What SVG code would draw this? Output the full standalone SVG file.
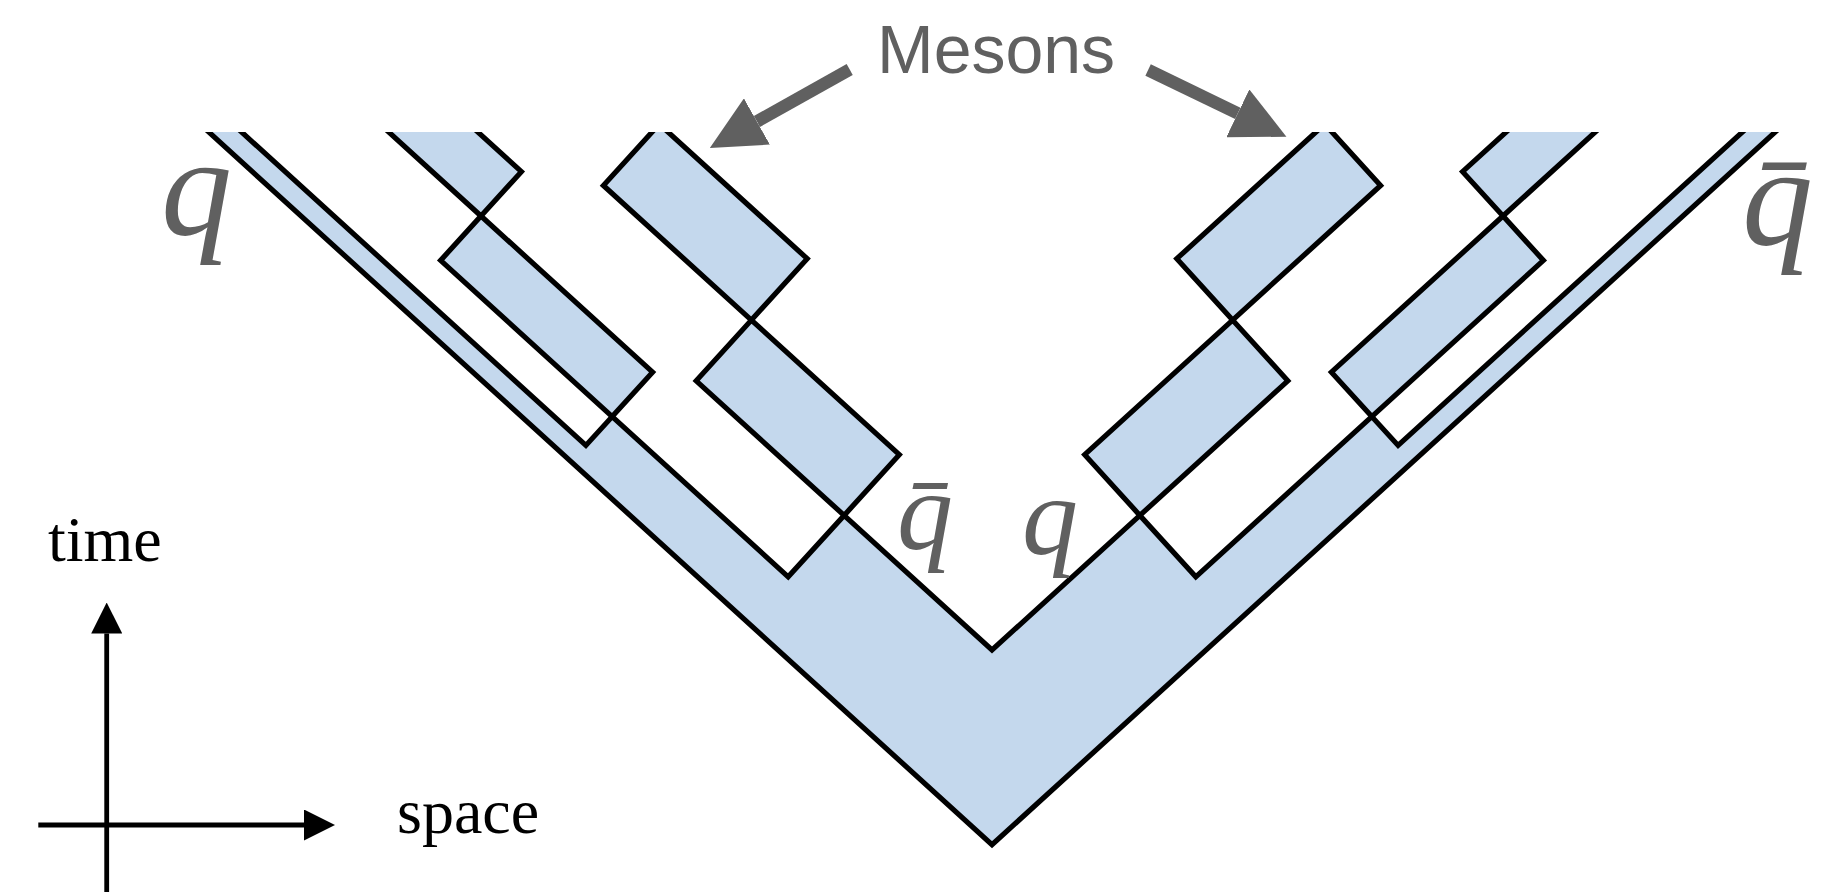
<svg xmlns="http://www.w3.org/2000/svg" width="1830" height="892" viewBox="0 0 1830 892">
<style>
 .band{fill:#c4d8ed;stroke:none}
 .meson{fill:#c4d8ed;stroke:#000;stroke-width:5.2;stroke-linejoin:miter}
 .edge{fill:none;stroke:#000;stroke-width:5.2;stroke-linejoin:miter}
 .lbl{font-family:"Liberation Serif","Times New Roman",serif;font-style:italic;fill:#606060}
 .axis{stroke:#000;stroke-width:4.8;fill:none}
 .axlbl{font-family:"Liberation Serif","Times New Roman",serif;font-size:64px;fill:#000}
 .mes{font-family:"Liberation Sans",Arial,sans-serif;font-size:68px;fill:#606060}
 .ptr{stroke:#606060;stroke-width:12.5;fill:none}
</style>
<defs>
 <clipPath id="topclip"><rect x="0" y="132" width="1830" height="760"/></clipPath>
 <marker id="mhead" markerUnits="userSpaceOnUse" viewBox="0 0 54 53" markerWidth="54" markerHeight="53" refX="0" refY="26.5" orient="auto"><path d="M0,0 L54,26.5 L0,53 Z" fill="#606060"/></marker>
 <marker id="axhead" markerUnits="userSpaceOnUse" viewBox="0 0 31 31" markerWidth="31" markerHeight="31" refX="0" refY="15.5" orient="auto"><path d="M0,0 L31,15.5 L0,31 Z" fill="#000"/></marker>
</defs>
<g id="spacetime" clip-path="url(#topclip)">
 <g id="string-band">
  <path class="band" d="M173.6,100 L992,844.7 L1810.4,100 L1777.6,100 L1398.1,445.4 L1371.8,416.6 L1195.8,576.8 L1139.9,515.4 L992,650 L844.1,515.4 L788.2,576.8 L612.2,416.6 L585.9,445.4 L206.4,100 Z"/>
 </g>
 <g id="meson-left-1"><path class="meson" d="M844.1,515.4 L899.3,454.7 L751.4,320.1 L696.2,380.8 Z"/></g>
 <g id="meson-left-2"><path class="meson" d="M751.4,320.1 L807.2,258.7 L659.3,124.1 L603.4,185.5 Z"/></g>
 <g id="meson-left-3"><path class="meson" d="M612.2,416.6 L652.6,372.2 L481.0,216.0 L440.6,260.4 Z"/></g>
 <g id="meson-left-4"><path class="meson" d="M481.0,216.0 L521.4,171.7 L351.3,16.8 L310.9,61.2 Z"/></g>
 <g id="meson-right-1"><path class="meson" d="M1139.9,515.4 L1084.7,454.7 L1232.6,320.1 L1287.8,380.8 Z"/></g>
 <g id="meson-right-2"><path class="meson" d="M1232.6,320.1 L1176.8,258.7 L1324.7,124.1 L1380.6,185.5 Z"/></g>
 <g id="meson-right-3"><path class="meson" d="M1371.8,416.6 L1331.4,372.2 L1503.0,216.0 L1543.4,260.4 Z"/></g>
 <g id="meson-right-4"><path class="meson" d="M1503.0,216.0 L1462.6,171.7 L1632.7,16.8 L1673.1,61.2 Z"/></g>
 <g id="worldlines">
  <path class="edge" d="M173.6,100 L992,844.7 L1810.4,100"/>
  <path class="edge" d="M206.4,100 L585.9,445.4 L612.2,416.6 L788.2,576.8 L844.1,515.4 L992,650 L1139.9,515.4 L1195.8,576.8 L1371.8,416.6 L1398.1,445.4 L1777.6,100"/>
 </g>
</g>
<g id="labels">
 <text class="lbl" x="161" y="235" font-size="142">q</text>
 <text class="lbl" x="1742" y="245" font-size="142">q̄</text>
 <text class="lbl" x="897" y="549" font-size="112">q̄</text>
 <text class="lbl" x="1022" y="554" font-size="112">q</text>
</g>
<g id="mesons-label">
 <text class="mes" x="877" y="73">Mesons</text>
</g>
<g id="connectors">
 <line class="ptr" x1="849.7" y1="69.5" x2="756.9" y2="121.5" marker-end="url(#mhead)"/>
 <line class="ptr" x1="1148.1" y1="70" x2="1237.8" y2="113.3" marker-end="url(#mhead)"/>
</g>
<g id="axes">
 <line class="axis" x1="106.7" y1="900" x2="106.7" y2="633.5" marker-end="url(#axhead)"/>
 <line class="axis" x1="38.3" y1="825" x2="304" y2="825" marker-end="url(#axhead)"/>
 <text class="axlbl" x="48" y="561">time</text>
 <text class="axlbl" x="397" y="833">space</text>
</g>
</svg>
